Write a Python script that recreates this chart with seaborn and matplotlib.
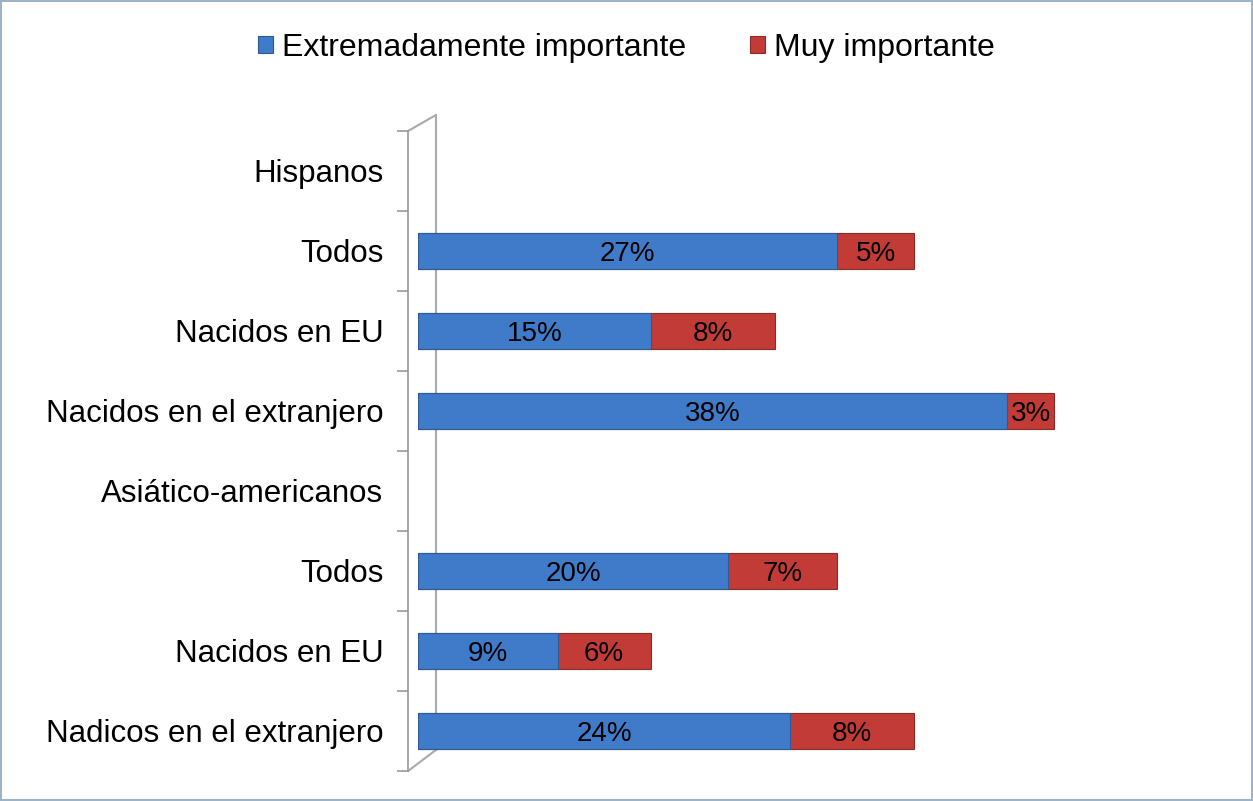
import matplotlib
matplotlib.use("Agg")
import matplotlib.pyplot as plt
import seaborn as sns
import pandas as pd
import numpy as np

# ====================
# DATOS
# ====================
categorias = ["Hispanos", "Todos", "Nacidos en EU", "Nacidos en el extranjero",
              "Asiático-americanos", "Todos", "Nacidos en EU", "Nadicos en el extranjero"]
extremadamente = [np.nan, 27, 15, 38, np.nan, 20, 9, 24]
muy = [np.nan, 5, 8, 3, np.nan, 7, 6, 8]
series = ["Extremadamente importante", "Muy importante"]

azul = "#3F7BC8"
rojo = "#C33B36"

df = pd.DataFrame({
    "fila": list(range(len(categorias))),
    "Extremadamente": extremadamente,
    "Muy": muy,
})
df["Total"] = df["Extremadamente"] + df["Muy"]

# ====================
# ESTILO
# ====================
sns.set_style("white")
plt.rcParams["font.family"] = ["Liberation Sans", "DejaVu Sans"]
plt.rcParams["text.color"] = "black"

fig = plt.figure(figsize=(12.53, 8.01), dpi=100)
fig.patch.set_edgecolor("#9DB3C8")
fig.patch.set_linewidth(1.5)
ax = fig.add_axes([0.3336, 0.0375, 0.656, 0.799])

orden = list(range(len(categorias)))
sns.barplot(data=df, x="Total", y="fila", orient="h", order=orden, color=rojo,
            width=0.46, ax=ax, edgecolor="#8E2A26", linewidth=0.8,
            saturation=1, label=series[1], zorder=3)
sns.barplot(data=df, x="Extremadamente", y="fila", orient="h", order=orden, color=azul,
            width=0.46, ax=ax, edgecolor="#2B5A96", linewidth=0.8,
            saturation=1, label=series[0], zorder=4)

# etiquetas de valores
for i, (e, m) in enumerate(zip(extremadamente, muy)):
    if np.isnan(e):
        continue
    ax.text(e / 2, i, f"{int(e)}%", ha="center", va="center_baseline", fontsize=20,
            color="black", zorder=5)
    ax.text(e + m / 2, i, f"{int(m)}%", ha="center", va="center_baseline", fontsize=20,
            color="black", zorder=5)

# ejes
ax.set_xlim(0, 53)
ax.set_ylim(len(categorias) - 0.5, -0.5)
ax.set_yticks(orden)
ax.set_yticklabels(categorias)
ax.set_yticks(np.arange(-0.5, len(categorias)), minor=True)
ax.tick_params(axis="y", which="major", length=0, pad=18, labelsize=22.5,
               labelcolor="black")
ax.tick_params(axis="y", which="minor", left=True, length=8, width=1.2,
               color="#999999", direction="out")
ax.set_xticks([])
ax.set_xlabel("")
ax.set_ylabel("")
for s in ["top", "right", "bottom"]:
    ax.spines[s].set_visible(False)
ax.spines["left"].set_position(("outward", 7))
ax.spines["left"].set_color("#999999")
ax.spines["left"].set_linewidth(1.2)

# pared lateral (efecto 3D)
izq, der = -0.012, 0.0219
ax.plot([der, der], [0.033, 1.025], transform=ax.transAxes, color="#AAAAAA",
        lw=1.5, zorder=1, clip_on=False)
ax.plot([izq, der], [1.0, 1.025], transform=ax.transAxes, color="#AAAAAA",
        lw=1.5, zorder=1, clip_on=False)
ax.plot([izq, der], [0.0, 0.033], transform=ax.transAxes, color="#AAAAAA",
        lw=1.5, zorder=1, clip_on=False)

# leyenda
h, l = ax.get_legend_handles_labels()
if ax.get_legend() is not None:
    ax.get_legend().remove()
orden_leg = [l.index(series[0]), l.index(series[1])]
fig.legend([h[k] for k in orden_leg], [l[k] for k in orden_leg], loc="center",
           bbox_to_anchor=(0.5, 0.94), ncol=2, frameon=False, fontsize=23,
           handlelength=0.45, handleheight=0.45, handletextpad=0.3, columnspacing=2.0)

fig.savefig("out.png", dpi=100)
